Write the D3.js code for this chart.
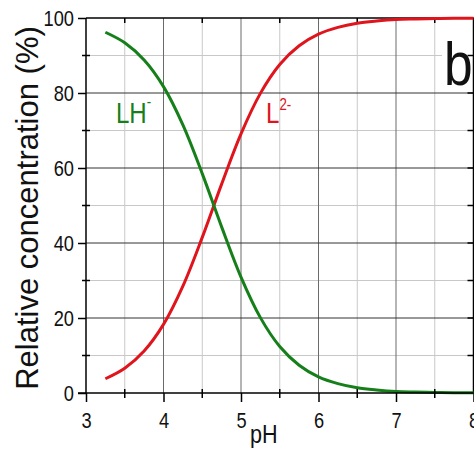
<!DOCTYPE html>
<html>
<head>
<meta charset="utf-8">
<script src="https://cdn.jsdelivr.net/npm/d3@7"></script>
<style>
  html, body { margin: 0; padding: 0; background: #fff; }
  svg { display: block; }
  .narrow { font-family: "Liberation Sans", Arial, sans-serif; }
</style>
</head>
<body>
<svg id="chart" width="474" height="452"></svg>
<script>
// Species distribution vs pH
const pH = [3.25, 3.5, 3.75, 4.0, 4.25, 4.5, 4.75, 5.0, 5.25, 5.5, 5.75, 6.0, 6.25, 6.5, 6.75, 7.0, 7.25, 7.5, 7.75, 8.0];
const LH = [96.2, 93.4, 88.8, 81.7, 71.5, 58.5, 44.3, 30.9, 20.1, 12.4, 7.4, 4.3, 2.5, 1.4, 0.8, 0.4, 0.25, 0.14, 0.08, 0.04];
const L2 = [3.8, 6.6, 11.2, 18.3, 28.5, 41.5, 55.7, 69.1, 79.9, 87.6, 92.6, 95.7, 97.5, 98.6, 99.2, 99.6, 99.75, 99.86, 99.92, 99.96];

const xMajor = [3, 4, 5, 6, 7, 8];
const xMinor = [3.5, 4.5, 5.5, 6.5, 7.5];
const yMajor = [0, 20, 40, 60, 80, 100];
const yMinor = [10, 30, 50, 70, 90];

const svg = d3.select("#chart");
const x = d3.scaleLinear().domain([3, 8]).range([86, 473.5]);
const y = d3.scaleLinear().domain([0, 100]).range([393, 18]);
const [x0, x1] = x.range();
const [y0, y1] = y.range();

// squeeze text horizontally around its anchor point (narrow face look)
const K = 0.83;
function condense(sel) {
  sel.each(function () {
    const t = d3.select(this);
    const tx = +t.attr("x") || 0, ty = +t.attr("y") || 0;
    t.attr("x", 0).attr("y", 0).attr("transform", `translate(${tx},${ty}) scale(${K},1)`);
  });
}

// grid
const grid = svg.append("g");
grid.selectAll(".vminor").data(xMinor).join("line")
  .attr("x1", d => x(d)).attr("x2", d => x(d)).attr("y1", y0).attr("y2", y1)
  .attr("stroke", "#c8c8c8").attr("stroke-width", 1);
grid.selectAll(".hminor").data(yMinor).join("line")
  .attr("x1", x0).attr("x2", x1).attr("y1", d => y(d)).attr("y2", d => y(d))
  .attr("stroke", "#c8c8c8").attr("stroke-width", 1);
grid.selectAll(".vmajor").data(xMajor.filter(d => d > 3 && d < 8)).join("line")
  .attr("x1", d => x(d)).attr("x2", d => x(d)).attr("y1", y0).attr("y2", y1)
  .attr("stroke", "#6a6a6a").attr("stroke-width", 1);
grid.selectAll(".hmajor").data(yMajor.filter(d => d > 0 && d < 100)).join("line")
  .attr("x1", x0).attr("x2", x1).attr("y1", d => y(d)).attr("y2", d => y(d))
  .attr("stroke", "#333").attr("stroke-width", 1);

// panel letter with its white backing
svg.append("rect").attr("x", 442).attr("y", 26).attr("width", 26).attr("height", 64).attr("fill", "#fff");
svg.append("text").attr("class", "narrow").attr("x", 444).attr("y", 85)
  .attr("font-size", 62).attr("fill", "#111").text("b").call(condense);

// frame: top and right
svg.append("line").attr("x1", x0).attr("x2", x1).attr("y1", y1).attr("y2", y1).attr("stroke", "#000").attr("stroke-width", 1.5);
svg.append("line").attr("x1", x1).attr("x2", x1).attr("y1", y0).attr("y2", y1).attr("stroke", "#000").attr("stroke-width", 1.5);
svg.selectAll(".ttick").data(xMinor).join("line")
  .attr("x1", d => x(d)).attr("x2", d => x(d)).attr("y1", y1).attr("y2", y1 + 5)
  .attr("stroke", "#000").attr("stroke-width", 1.5);
svg.selectAll(".rtick").data(yMajor.concat(yMinor)).join("line")
  .attr("x1", x1 - 6).attr("x2", x1).attr("y1", d => y(d)).attr("y2", d => y(d))
  .attr("stroke", "#000").attr("stroke-width", 1.5);

// curves
const line = (vals) => d3.line()
  .x((d, i) => x(pH[i])).y(d => y(d))
  .curve(d3.curveCatmullRom)(vals);
svg.append("path").attr("d", line(L2)).attr("fill", "none")
  .attr("stroke", "#e0141c").attr("stroke-width", 3);
svg.append("path").attr("d", line(LH)).attr("fill", "none")
  .attr("stroke", "#15801a").attr("stroke-width", 3);

// axes
const xAxis = svg.append("g").attr("transform", `translate(0,${y0})`)
  .call(d3.axisBottom(x).tickValues(xMajor).tickSize(9).tickPadding(10).tickFormat(d3.format("d")));
const yAxis = svg.append("g").attr("transform", `translate(${x0},0)`)
  .call(d3.axisLeft(y).tickValues(yMajor).tickSize(8).tickPadding(4).tickFormat(d3.format("d")));
[xAxis, yAxis].forEach(g => {
  g.select(".domain").attr("stroke", "#000").attr("stroke-width", 1.5);
  g.selectAll(".tick line").attr("stroke", "#000").attr("stroke-width", 1.5);
  g.selectAll(".tick text").attr("class", "narrow").attr("font-size", 22).attr("fill", "#111").call(condense);
});
yAxis.select(".domain").attr("d", `M0,${y0}V${y1}`);
xAxis.select(".domain").attr("d", `M${x0 - 8},0H${x1}`);
svg.selectAll(".xmin").data(xMinor).join("line")
  .attr("x1", d => x(d)).attr("x2", d => x(d)).attr("y1", y0 - 4).attr("y2", y0 + 5)
  .attr("stroke", "#000").attr("stroke-width", 1.5);
svg.selectAll(".ymin").data(yMinor).join("line")
  .attr("x1", x0 - 4).attr("x2", x0 + 4).attr("y1", d => y(d)).attr("y2", d => y(d))
  .attr("stroke", "#000").attr("stroke-width", 1.5);

// axis titles
svg.append("text").attr("class", "narrow").attr("x", 250).attr("y", 443)
  .attr("font-size", 26).attr("fill", "#111").text("pH").call(condense);
svg.append("text")
  .attr("transform", `translate(38,208) rotate(-90)`)
  .attr("text-anchor", "middle")
  .attr("font-family", "'Liberation Sans', Arial, sans-serif")
  .attr("font-size", 31).attr("fill", "#111")
  .text("Relative concentration (%)");

// species labels
const lh = svg.append("text").attr("class", "narrow").attr("x", 116).attr("y", 123)
  .attr("font-size", 29).attr("fill", "#15801a");
lh.append("tspan").text("LH");
lh.append("tspan").attr("font-size", 16).attr("dy", -16).text("-");
lh.call(condense);
const l2 = svg.append("text").attr("class", "narrow").attr("x", 266).attr("y", 123)
  .attr("font-size", 29).attr("fill", "#e0141c");
l2.append("tspan").text("L");
l2.append("tspan").attr("font-size", 16).attr("dy", -13).text("2-");
l2.call(condense);
</script>
</body>
</html>
